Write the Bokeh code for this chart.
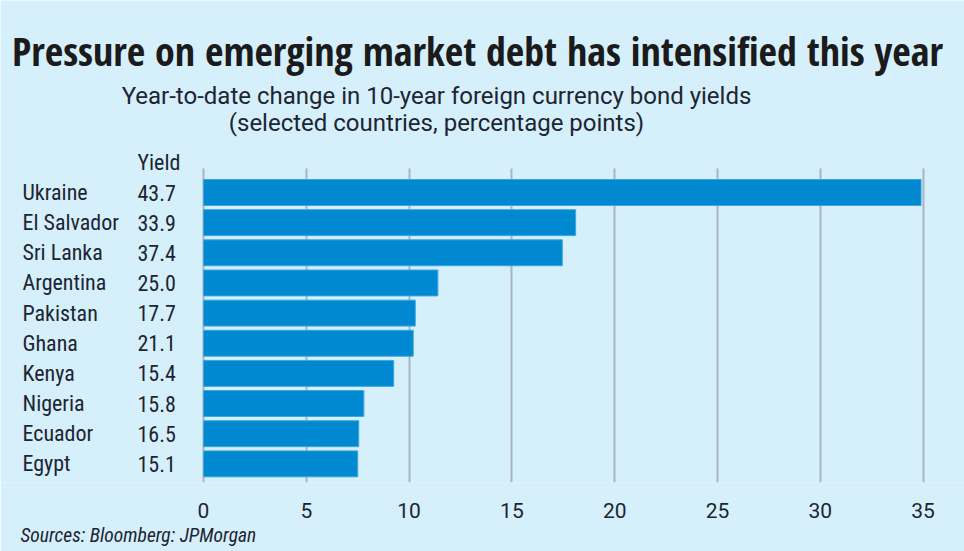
from bokeh.plotting import figure
from bokeh.models import ColumnDataSource, Range1d, Label, LabelSet, FixedTicker, Title
from bokeh.core.properties import value
from bokeh.embed import file_html
from bokeh.resources import INLINE

countries = ["Ukraine", "El Salvador", "Sri Lanka", "Argentina", "Pakistan",
             "Ghana", "Kenya", "Nigeria", "Ecuador", "Egypt"]
yields = ["43.7", "33.9", "37.4", "25.0", "17.7", "21.1", "15.4", "15.8", "16.5", "15.1"]
change = [34.9, 18.1, 17.45, 11.4, 10.3, 10.2, 9.25, 7.8, 7.55, 7.5]
ticks = [0, 5, 10, 15, 20, 25, 30, 35]

title_text = "Pressure on emerging market debt has intensified this year"
subtitle1 = "Year-to-date change in 10-year foreign currency bond yields"
subtitle2 = "(selected countries, percentage points)"
source_text = "Sources: Bloomberg: JPMorgan"

BG = "#d5effb"
BAR = "#0088d1"
TXT = "#1d2533"
COND = "Roboto Condensed"
TITLEF = "Open Sans Condensed"

W, H = 964, 551
FB = 482            # frame bottom (canvas px)
X0, PXU = 203, 20.56  # pixel of x=0, px per unit
Y0, PITCH = 192, 30.15

p = figure(width=W, height=H, output_backend="svg", toolbar_location=None,
           x_range=Range1d(-X0 / PXU, (W - X0) / PXU),
           y_range=Range1d((FB - Y0) / PITCH, -Y0 / PITCH),
           min_border_left=0, min_border_right=0,
           min_border_top=0, min_border_bottom=H - FB,
           y_axis_location=None, title=None)
p.background_fill_color = BG
p.border_fill_color = BG
p.outline_line_color = None

idx = list(range(len(countries)))
src = ColumnDataSource(dict(idx=idx, country=countries, yld=yields, val=change))

p.ygrid.visible = False
g = p.xgrid[0]
g.ticker = FixedTicker(ticks=ticks)
g.grid_line_color = "#a9b6c0"
g.grid_line_width = 2
g.cross_bounds = ((FB - Y0) / PITCH, (168 - Y0) / PITCH)

p.hbar(y="idx", left=0, right="val", height=0.86, source=src,
       fill_color=BAR, line_color="#3aa6e0", line_width=1)

ax = p.xaxis[0]
ax.ticker = FixedTicker(ticks=ticks)
ax.axis_line_color = None
ax.major_tick_line_color = None
ax.minor_tick_line_color = None
ax.major_tick_out = 0
ax.major_tick_in = 0
ax.major_label_standoff = 20
ax.major_label_text_font = "Roboto"
ax.major_label_text_font_size = "21px"
ax.major_label_text_color = TXT


def sy(Y):
    return FB - Y


p.add_layout(LabelSet(x=22, y="idx", x_units="screen", y_units="data",
                      text="country", source=src, text_font=value(COND),
                      text_font_size=value("22px"), text_color=TXT,
                      text_baseline="middle"))
p.add_layout(LabelSet(x=137, y="idx", x_units="screen", y_units="data",
                      text="yld", source=src, text_font=value(COND),
                      text_font_size=value("22px"), text_color=TXT,
                      text_baseline="middle"))

p.add_layout(Label(x=137, y=sy(162), x_units="screen", y_units="screen",
                   text="Yield", text_font=COND, text_font_size="22px",
                   text_color=TXT, text_baseline="alphabetic"))

p.add_layout(Label(x=477, y=sy(50), x_units="screen", y_units="screen",
                   text=title_text, text_font=TITLEF, text_font_size="40px",
                   text_font_style="bold", text_color="#1b1b1b",
                   text_align="center", text_baseline="alphabetic"))
p.add_layout(Label(x=436, y=sy(95), x_units="screen", y_units="screen",
                   text=subtitle1, text_font="Roboto", text_font_size="24px",
                   text_color=TXT, text_align="center", text_baseline="alphabetic"))
p.add_layout(Label(x=436, y=sy(122), x_units="screen", y_units="screen",
                   text=subtitle2, text_font="Roboto", text_font_size="24px",
                   text_color=TXT, text_align="center", text_baseline="alphabetic"))

p.add_layout(Title(text=source_text, align="left", offset=20, standoff=2,
                   text_font=COND, text_font_size="19.5px",
                   text_font_style="italic", text_color=TXT), "below")

open("out.html", "w").write(file_html(p, INLINE))
